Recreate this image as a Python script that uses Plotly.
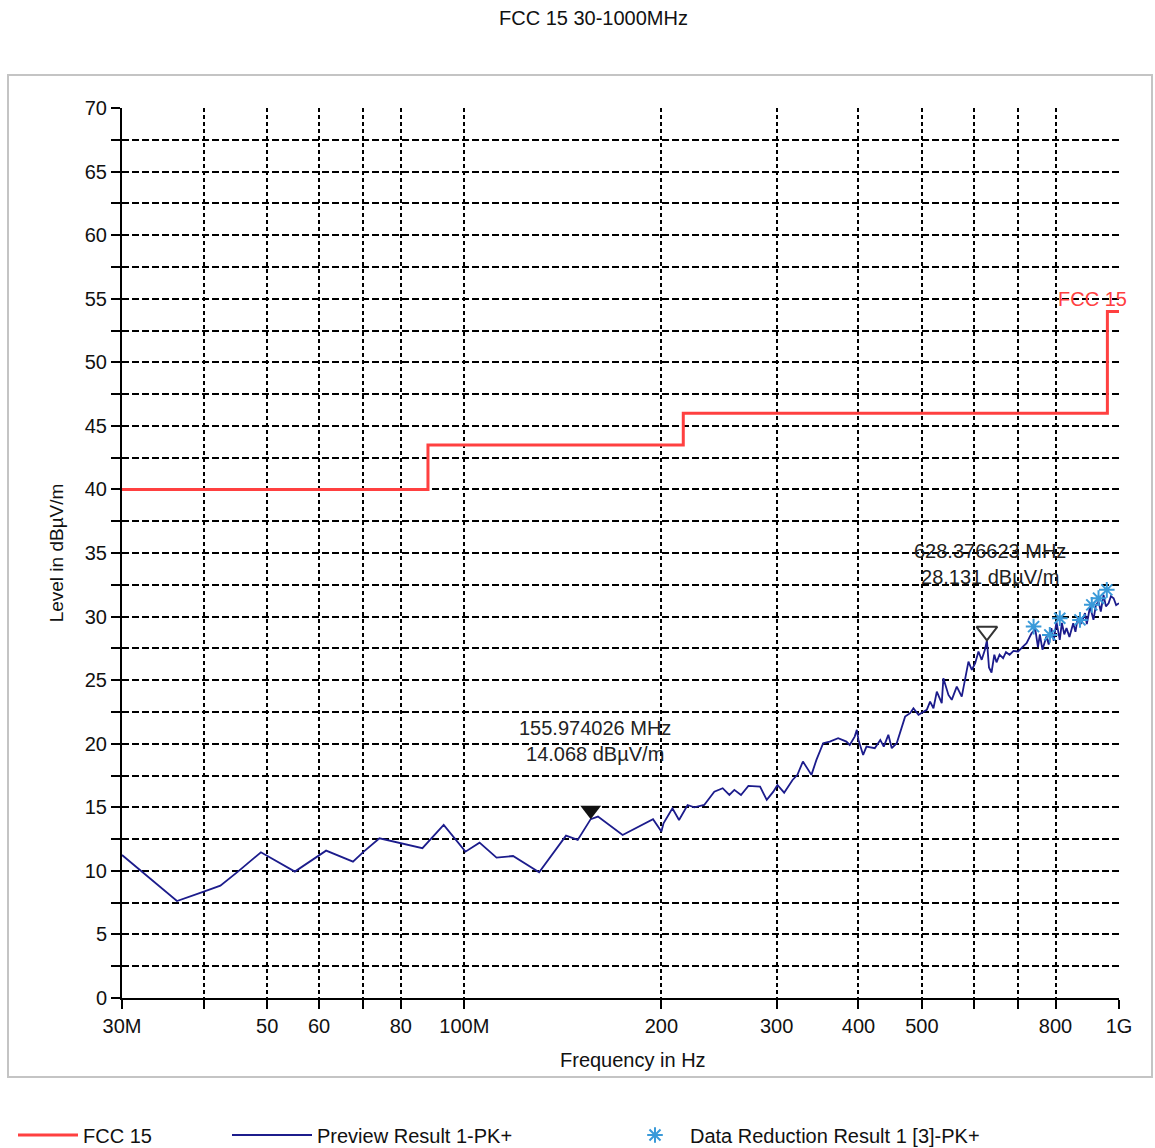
import plotly.graph_objects as go
import math

# ---------------- data ----------------
title_text = "FCC 15 30-1000MHz"

limit_freq_mhz = [30, 88, 216, 960, 1000]
limit_level = [40, 43.5, 46, 54, 54]

preview_freq_mhz = [
    30.0, 36.4, 40.0, 42.4, 45.1, 48.9, 55.1, 59.5, 61.5, 67.6, 70.2, 74.2, 80.0, 86.3,
    93.0, 100.4, 105.5, 112.0, 118.7, 130.1, 143.0, 149.0, 155.974026, 160.0, 174.5,
    194.2, 200.0, 201.5, 207.9, 212.8, 219.3, 224.5, 232.5, 240.9, 248.1, 254.0, 258.5,
    264.6, 271.6, 283.0, 289.7, 296.5, 300.8, 308.0, 317.2, 322.7, 329.0, 339.0, 345.0,
    353.3, 361.6, 372.4, 383.4, 387.9, 394.7, 397.7, 400.0, 406.6, 411.4, 423.6, 431.9,
    437.2, 444.3, 449.7, 457.6, 471.3, 479.6, 485.3, 494.0, 508.6, 514.6, 520.7, 526.9,
    536.1, 539.2, 548.9, 555.3, 565.2, 575.2, 582.0, 588.9, 596.0, 603.0, 610.0, 617.0,
    624.0, 628.376623, 633.0, 638.7, 645.0, 650.0, 657.0, 665.2, 672.0, 680.6, 690.0,
    701.2, 712.0, 722.4, 735.2, 745.0, 752.0, 757.0, 764.0, 774.7, 781.0, 788.4, 795.0,
    802.5, 811.9, 818.0, 825.0, 831.4, 840.0, 851.3, 858.0, 865.0, 871.7, 878.0, 887.3,
    893.0, 903.2, 914.1, 922.0, 930.5, 938.0, 947.1, 955.0, 964.0, 972.0, 981.3, 990.0,
    1000.0,
]
preview_level = [
    11.25, 7.63, 8.36, 8.84, 9.94, 11.46, 9.94, 11.07, 11.59, 10.72, 11.51, 12.56, 12.17, 11.78,
    13.61, 11.51, 12.22, 11.04, 11.17, 9.89, 12.77, 12.43, 14.068, 14.27, 12.82,
    14.06, 13.09, 13.74, 14.92, 14.0, 15.18, 15.0, 15.18, 16.23, 16.5, 15.97, 16.37,
    15.97, 16.68, 16.62, 15.58, 16.23, 16.76, 16.15, 17.15, 17.55, 18.6, 17.55, 18.73,
    20.04, 20.17, 20.43, 20.17, 19.9, 20.56, 21.09, 20.3, 19.12, 19.77, 19.65, 20.3,
    19.77, 20.7, 19.65, 20.04, 22.13, 22.4, 22.79, 22.27, 22.66, 23.31, 22.79, 24.1,
    23.19, 25.15, 23.84, 23.45, 24.49, 23.7, 25.02, 26.46, 25.8, 26.33, 27.25, 26.6,
    27.38, 28.131, 26.0, 25.6, 27.0, 26.4, 27.0, 26.73, 27.2, 27.0, 27.3,
    27.25, 27.6, 27.9, 28.69, 29.0, 27.6, 28.6, 27.4, 28.43, 27.8, 29.09, 28.1,
    29.6, 28.17, 29.5, 28.6, 29.09, 28.4, 29.48, 28.8, 29.9, 29.35, 29.6, 30.27,
    29.4, 30.79, 29.74, 30.9, 31.18, 30.4, 31.71, 30.8, 31.05, 31.6, 31.44, 30.9,
    31.05,
]

reduction_freq_mhz = [740.5, 784.0, 812.0, 871.7, 908.7, 930.5, 958.0]
reduction_level = [29.21, 28.56, 29.87, 29.74, 30.92, 31.45, 32.1]

marker1_freq_mhz = 155.974026
marker1_level = 14.068
marker2_freq_mhz = 628.376623
marker2_level = 28.131

x_tick_mhz = [30, 40, 50, 60, 70, 80, 100, 200, 300, 400, 500, 600, 700, 800, 1000]
x_tick_text = ["30M", "", "50", "60", "", "80", "100M", "200", "300", "400", "500", "", "", "800", "1G"]

y_tick_vals = [i * 2.5 for i in range(29)]
y_tick_text = [str(int(v)) if v % 5 == 0 else "" for v in y_tick_vals]

# ---------------- layout constants ----------------
W, H = 1155, 1148
ML, MR, MT, MB = 122, 36, 108, 150
PW = W - ML - MR
PH = H - MT - MB
Y_MIN, Y_MAX = 0, 70
FONT = "Arial, Liberation Sans, sans-serif"

RED = "#ff4040"
NAVY = "#1c1c8c"
STAR = "#3a9ad9"

MS = 18  # triangle marker size
tip_off = (MS / 2) / (PH / (Y_MAX - Y_MIN))  # shift so the triangle tip sits on the value

hz = lambda arr: [f * 1e6 for f in arr]

fig = go.Figure()

fig.add_trace(go.Scatter(
    x=hz(limit_freq_mhz), y=limit_level, mode="lines", line_shape="hv",
    line=dict(color=RED, width=3), name="FCC 15", legend="legend",
    hoverinfo="skip"))

fig.add_trace(go.Scatter(
    x=hz(preview_freq_mhz), y=preview_level, mode="lines",
    line=dict(color=NAVY, width=1.8), name="Preview Result 1-PK+", legend="legend2"))

fig.add_trace(go.Scatter(
    x=hz(reduction_freq_mhz), y=reduction_level, mode="markers",
    marker=dict(symbol="asterisk-open", size=13, color=STAR, line=dict(color=STAR, width=2)),
    name="Data Reduction Result 1 [3]-PK+", legend="legend3"))

fig.add_trace(go.Scatter(
    x=[marker1_freq_mhz * 1e6], y=[marker1_level + tip_off], mode="markers",
    marker=dict(symbol="triangle-down", size=MS, color="#111111"),
    showlegend=False))
fig.add_trace(go.Scatter(
    x=[marker2_freq_mhz * 1e6], y=[marker2_level + tip_off], mode="markers",
    marker=dict(symbol="triangle-down-open", size=MS, color="#333333",
                line=dict(color="#333333", width=2)),
    showlegend=False))

annotations = [
    dict(x=math.log10(marker1_freq_mhz * 1e6), y=marker1_level, xref="x", yref="y",
         text=f"{marker1_freq_mhz:.6f} MHz<br>{marker1_level:.3f} dBµV/m",
         showarrow=False, xanchor="center", yanchor="bottom", yshift=52, xshift=4,
         font=dict(family=FONT, size=20, color="#222222")),
    dict(x=math.log10(marker2_freq_mhz * 1e6), y=marker2_level, xref="x", yref="y",
         text=f"{marker2_freq_mhz:.6f} MHz<br>{marker2_level:.3f} dBµV/m",
         showarrow=False, xanchor="center", yanchor="bottom", yshift=50, xshift=3,
         font=dict(family=FONT, size=20, color="#222222")),
    dict(x=math.log10(limit_freq_mhz[-1] * 1e6), y=limit_level[-1], xref="x", yref="y",
         text="FCC 15", showarrow=False, xanchor="right", yanchor="middle",
         xshift=10, yshift=12, font=dict(family=FONT, size=20, color=RED)),
    dict(x=(593 - ML) / PW, y=(H - MB - 18) / PH, xref="paper", yref="paper",
         text=title_text, showarrow=False, xanchor="center", yanchor="middle",
         font=dict(family=FONT, size=20, color="#111111")),
    dict(x=(633 - ML) / PW, y=(H - MB - 1060) / PH, xref="paper", yref="paper",
         text="Frequency in Hz", showarrow=False, xanchor="center", yanchor="middle",
         font=dict(family=FONT, size=20, color="#111111")),
]

shapes = [
    dict(type="rect", xref="paper", yref="paper",
         x0=(8 - ML) / PW, x1=(1152 - ML) / PW,
         y0=(H - MB - 1077) / PH, y1=(H - MB - 75) / PH,
         line=dict(color="#c4c4c4", width=2), fillcolor="rgba(0,0,0,0)", layer="below"),
]

leg_common = dict(orientation="h", yanchor="middle", xanchor="left",
                  xref="container", yref="container",
                  font=dict(family=FONT, size=20, color="#111111"),
                  bgcolor="rgba(0,0,0,0)", borderwidth=0)
leg_y = (H - 1135) / H

fig.update_layout(
    width=W, height=H,
    margin=dict(l=ML, r=MR, t=MT, b=MB, pad=0, autoexpand=False),
    paper_bgcolor="white", plot_bgcolor="white",
    font=dict(family=FONT, size=20, color="#111111"),
    showlegend=True,
    legend=dict(x=13 / W, y=leg_y, itemwidth=60, **leg_common),
    legend2=dict(x=227 / W, y=leg_y, itemwidth=80, **leg_common),
    legend3=dict(x=620 / W, y=leg_y, itemwidth=60, **leg_common),
    annotations=annotations,
    shapes=shapes,
    xaxis=dict(
        type="log", range=[math.log10(30e6), math.log10(1e9)],
        tickmode="array", tickvals=hz(x_tick_mhz), ticktext=x_tick_text,
        showgrid=True, gridcolor="#000000", gridwidth=1.5, griddash="4px,3px",
        showline=True, linecolor="black", linewidth=2,
        ticks="outside", ticklen=9, tickwidth=2, tickcolor="black",
        tickfont=dict(family=FONT, size=20, color="#111111"),
        zeroline=False,
    ),
    yaxis=dict(
        range=[Y_MIN, Y_MAX], tickmode="array", tickvals=y_tick_vals, ticktext=y_tick_text,
        showgrid=True, gridcolor="#000000", gridwidth=1.5, griddash="7px,3px",
        showline=True, linecolor="black", linewidth=2,
        ticks="outside", ticklen=9, tickwidth=2, tickcolor="black",
        tickfont=dict(family=FONT, size=20, color="#111111"),
        title=dict(text="Level in dBµV/m", font=dict(family=FONT, size=19, color="#111111"), standoff=16),
        zeroline=False,
    ),
)

fig.write_html("out.html")
